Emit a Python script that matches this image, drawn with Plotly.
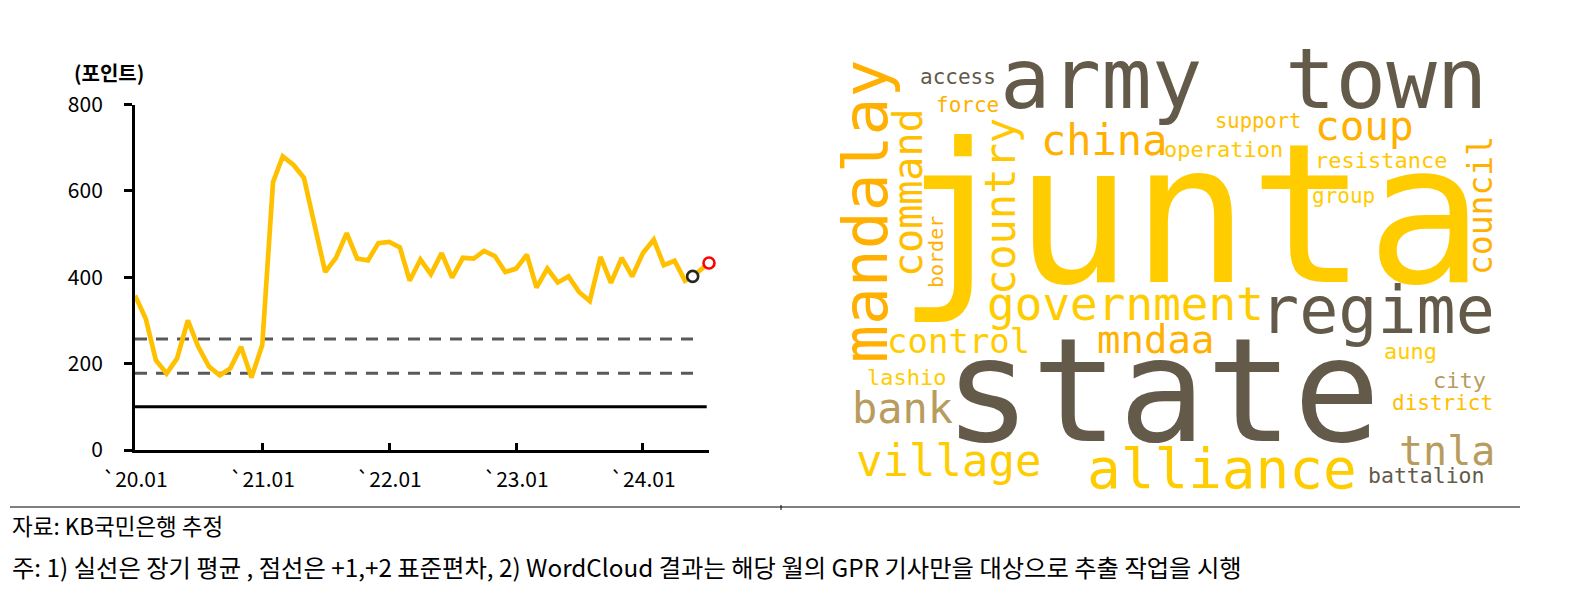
import pandas as pd
import plotly.graph_objects as go

W, H = 1574, 594

# ---------------- data: GPR (Myanmar) index ----------------
months = list(pd.date_range("2020-01-01", "2024-05-01", freq="MS").strftime("%Y-%m-%d"))
gpr = [358, 304, 208, 177, 212, 300, 239, 193, 173, 189, 239, 168,
       243, 620, 680, 660, 630, 518, 412, 445, 502, 443, 439, 479,
       482, 469, 392, 441, 407, 456, 399, 445, 443, 461, 449, 412,
       420, 452, 376, 420, 388, 402, 366, 345, 447, 387, 445, 402,
       456, 487, 428, 438, 392]
prev_point = ("2024-05-23", 402)     # black circle
last_point = ("2024-07-09", 433)     # red circle
long_mean = 100
sd_lines = [178, 257]
tick_dates = ["2020-01-01", "2021-01-01", "2022-01-01", "2023-01-01", "2024-01-01"]
tick_text = ["`20.01", "`21.01", "`22.01", "`23.01", "`24.01"]
y_ticks = [0, 200, 400, 600, 800]

# ---------------- data: word cloud words ----------------
words = ["army", "town", "junta", "state", "regime", "government", "mandalay", "command",
         "country", "border", "access", "force", "china", "coup", "support", "operation",
         "resistance", "group", "council", "control", "mndaa", "lashio", "bank", "village",
         "alliance", "tnla", "battalion", "aung", "city", "district"]

# layout of the cloud (size, center x px, center y px, angle, colour)
DARK, YEL, ORG, ORG2, KHA = "#635A4A", "#FFCC00", "#FFB000", "#FFBE00", "#B89C5E"
cloud_layout = {
    "army": (84, 1101, 79, 0, DARK),
    "town": (84, 1386, 79, 0, DARK),
    "junta": (195, 1190, 214, 0, YEL),
    "state": (145, 1162, 390, 0, DARK),
    "regime": (65, 1377, 310, 0, DARK),
    "government": (46, 1125, 304, 0, YEL),
    "mandalay": (63, 865, 211, -90, ORG),
    "command": (40, 908, 193, -90, ORG2),
    "country": (42, 1000, 207, -90, "#FFC800"),
    "border": (20, 936, 252, -90, ORG),
    "access": (21, 958, 77, 0, DARK),
    "force": (21, 967, 105, 0, ORG),
    "china": (42, 1104, 141, 0, ORG),
    "coup": (41, 1364, 126, 0, ORG),
    "support": (20.5, 1258, 121, 0, ORG2),
    "operation": (22, 1223, 149, 0, "#FFC800"),
    "resistance": (22, 1381, 160, 0, "#FFC800"),
    "group": (21, 1343, 196, 0, YEL),
    "council": (33, 1481, 206, -90, ORG),
    "control": (34, 958, 341, 0, YEL),
    "mndaa": (39, 1155, 339, 0, ORG),
    "lashio": (22, 906, 377, 0, YEL),
    "bank": (42, 902, 408, 0, KHA),
    "village": (44, 948, 460, 0, YEL),
    "alliance": (56, 1222, 468, 0, YEL),
    "tnla": (40, 1447, 451, 0, KHA),
    "battalion": (21.5, 1426, 475, 0, DARK),
    "aung": (22, 1410, 351, 0, YEL),
    "city": (22, 1459, 380, 0, KHA),
    "district": (21, 1442, 403, 0, ORG2),
}

source_text = "자료: KB국민은행 추정"
note_text = "주: 1) 실선은 장기 평균 , 점선은 +1,+2 표준편차, 2) WordCloud 결과는 해당 월의 GPR 기사만을 대상으로 추출 작업을 시행"

KFONT = "Noto Sans CJK KR"

fig = go.Figure()

line_x = months + [prev_point[0], last_point[0]]
line_y = gpr + [prev_point[1], last_point[1]]
fig.add_trace(go.Scatter(x=line_x, y=line_y, mode="lines",
                         line=dict(color="#FFC000", width=4.7), cliponaxis=False,
                         hoverinfo="skip"))
fig.add_trace(go.Scatter(x=[prev_point[0]], y=[prev_point[1]], mode="markers",
                         marker=dict(symbol="circle", size=11, color="white",
                                     line=dict(color="#262626", width=2.6)),
                         cliponaxis=False))
fig.add_trace(go.Scatter(x=[last_point[0]], y=[last_point[1]], mode="markers",
                         marker=dict(symbol="circle", size=11, color="white",
                                     line=dict(color="#FF0000", width=2.6)),
                         cliponaxis=False))

shapes = []
for v in sd_lines:
    shapes.append(dict(type="line", xref="x domain", yref="y", x0=0, x1=0.982, y0=v, y1=v,
                       line=dict(color="#595959", width=3, dash="12px,9px"), layer="below"))
shapes.append(dict(type="line", xref="x domain", yref="y", x0=0, x1=0.996, y0=long_mean, y1=long_mean,
                   line=dict(color="black", width=3), layer="below"))
# footer rule
shapes.append(dict(type="line", xref="paper", yref="paper", x0=10 / W, x1=1520 / W,
                   y0=1 - 507 / H, y1=1 - 507 / H, line=dict(color="black", width=1)))
shapes.append(dict(type="line", xref="paper", yref="paper", x0=781 / W, x1=781 / W,
                   y0=1 - 505 / H, y1=1 - 510 / H, line=dict(color="black", width=1)))

annotations = []
for w in words:
    size, cx, cy, ang, col = cloud_layout[w]
    annotations.append(dict(text=w, xref="paper", yref="paper", x=cx / W, y=1 - cy / H,
                            xanchor="center", yanchor="middle", showarrow=False,
                            textangle=ang, font=dict(family="DejaVu Sans Mono", size=size, color=col)))

annotations.append(dict(text="(포인트)", xref="paper", yref="paper", x=72 / W, y=1 - 72 / H,
                        xanchor="left", yanchor="middle", showarrow=False,
                        font=dict(family=KFONT, size=20, color="black", weight="bold")))
annotations.append(dict(text=source_text, xref="paper", yref="paper", x=10 / W, y=1 - 525 / H,
                        xanchor="left", yanchor="middle", showarrow=False,
                        font=dict(family=KFONT, size=22.5, color="black")))
annotations.append(dict(text=note_text, xref="paper", yref="paper", x=10 / W, y=1 - 566 / H,
                        xanchor="left", yanchor="middle", showarrow=False,
                        font=dict(family=KFONT, size=24.3, color="black")))

fig.update_layout(
    template="none",
    width=W, height=H,
    margin=dict(l=0, r=0, t=0, b=0, pad=0, autoexpand=False),
    paper_bgcolor="white", plot_bgcolor="white",
    showlegend=False,
    shapes=shapes, annotations=annotations,
    xaxis=dict(type="date", domain=[135 / W, 709 / W], range=["2020-01-01", last_point[0]],
               tickvals=tick_dates, ticktext=tick_text, ticks="inside", ticklen=7, tickwidth=3,
               tickcolor="black", showline=True, linewidth=3, linecolor="black",
               showgrid=False, zeroline=False, ticklabelstandoff=9, automargin=False,
               tickfont=dict(family=KFONT, size=21, color="black")),
    yaxis=dict(domain=[1 - 450 / H, 1 - 104.5 / H], range=[0, 800], tickvals=y_ticks,
               ticks="outside", ticklen=8, tickwidth=3, tickcolor="black",
               showline=True, linewidth=3, linecolor="black", showgrid=False, zeroline=False,
               ticklabelstandoff=17, automargin=False,
               tickfont=dict(family=KFONT, size=21, color="black")),
)

fig.write_html("out.html", config={"displayModeBar": False},
               post_script="document.body.style.margin='0';document.body.style.overflow='hidden';")
